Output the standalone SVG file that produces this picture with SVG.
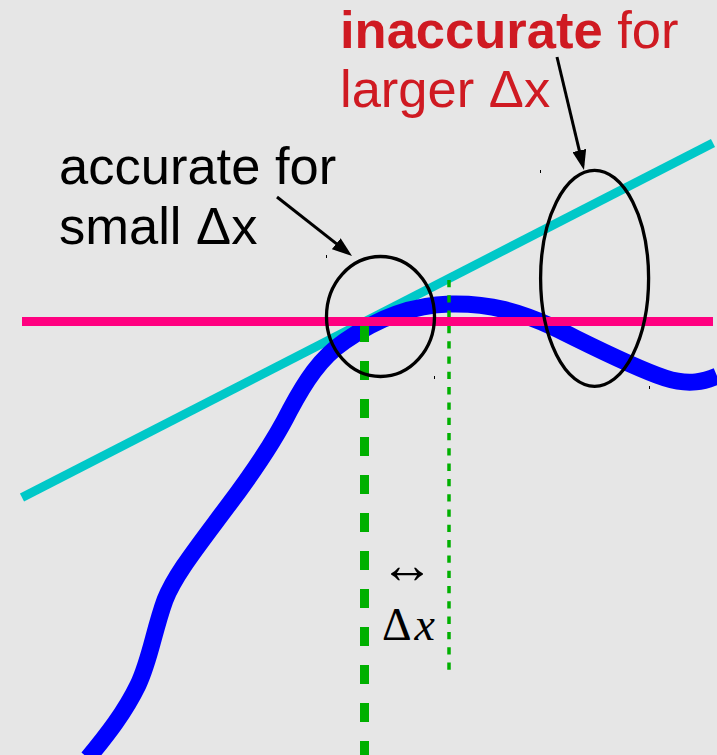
<svg xmlns="http://www.w3.org/2000/svg" width="717" height="755" viewBox="0 0 717 755">
<defs>
<style>
.sans{font-family:"Liberation Sans",Arial,sans-serif;font-size:52.5px}
.blk{fill:#000}
.red{fill:#cf1a22}
.math{font-family:"Liberation Serif","DejaVu Serif",serif;fill:#000}
.ell{fill:none;stroke:#000;stroke-width:3.3}
.tick{stroke:#000;stroke-width:1}
.arrow{stroke:#000;stroke-width:3;fill:none;marker-end:url(#ah)}
</style>
<marker id="ah" markerUnits="userSpaceOnUse" markerWidth="20" markerHeight="14" refX="15" refY="7" orient="auto">
<path d="M0,0 L20,7 L0,14 z" fill="#000"/>
</marker>
</defs>
<rect width="717" height="755" fill="#e6e6e6"/>
<g id="tangent-line">
<line x1="22" y1="497.5" x2="713" y2="143" stroke="#00c8c8" stroke-width="9"/>
</g>
<g id="curve">
<path d="M 88 758 C 107 735, 125 712, 138 685 C 150 660, 154 630, 165 600 C 175 575, 195 550, 227 507 C 255 470, 275 440, 290 410 C 305 382, 320 358, 345 341 C 375 320, 410 305, 450 304 C 490 303, 520 312, 555 328 C 590 345, 630 366, 665 378 C 690 386, 705 381, 717 376" fill="none" stroke="#0000ff" stroke-width="17"/>
</g>
<g id="x-marker">
<line x1="364.5" y1="323" x2="364.5" y2="755" stroke="#00b000" stroke-width="9" stroke-dasharray="19 19"/>
</g>
<g id="x-plus-dx-marker">
<line x1="449" y1="280" x2="449" y2="676" stroke="#00b000" stroke-width="3.5" stroke-dasharray="7.3 8"/>
</g>
<g id="horizontal-line">
<line x1="22" y1="321.5" x2="713" y2="321.5" stroke="#ff0080" stroke-width="9"/>
</g>
<g id="small-region">
<ellipse class="ell" cx="380.5" cy="316.5" rx="54" ry="60"/>
<line class="tick" x1="326.5" y1="255" x2="326.5" y2="258"/>
<line class="tick" x1="434.5" y1="376" x2="434.5" y2="379"/>
</g>
<g id="large-region">
<ellipse class="ell" cx="594.6" cy="278.3" rx="54" ry="108"/>
<line class="tick" x1="540.5" y1="170" x2="540.5" y2="173"/>
<line class="tick" x1="649.5" y1="386" x2="649.5" y2="389"/>
</g>
<g id="connectors">
<line class="arrow" x1="277" y1="197" x2="348.1" y2="252.9"/>
<line class="arrow" x1="557" y1="57" x2="582.8" y2="165.1"/>
</g>
<g id="label-accurate">
<text class="sans blk" x="59" y="184">accurate for</text>
<text class="sans blk" x="59" y="244">small Δx</text>
</g>
<g id="label-inaccurate">
<text class="sans red" x="340" y="48"><tspan font-weight="bold">inaccurate</tspan> for</text>
<text class="sans red" x="340" y="107">larger Δx</text>
</g>
<g id="label-dx">
<text class="math" x="380" y="583" font-size="54">↔</text>
<text class="math" x="382" y="640" font-size="46">Δ<tspan font-style="italic" dx="3">x</tspan></text>
</g>
</svg>
